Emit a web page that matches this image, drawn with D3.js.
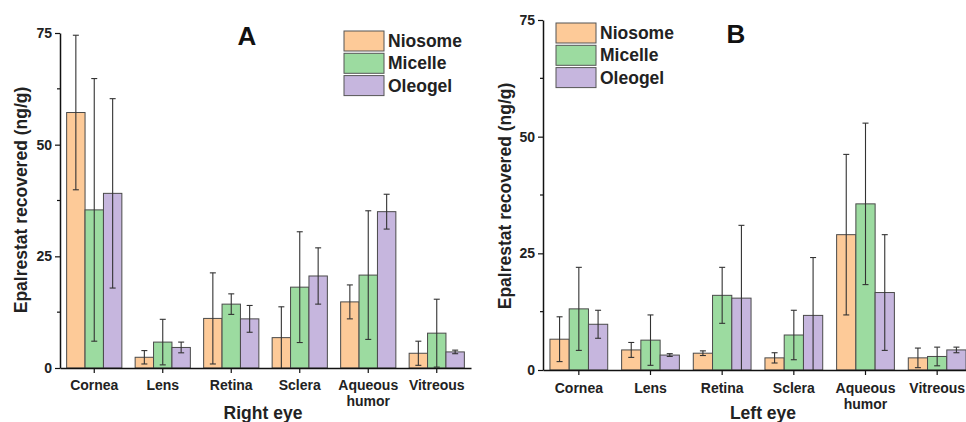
<!DOCTYPE html>
<html>
<head>
<meta charset="utf-8">
<script src="https://cdn.jsdelivr.net/npm/d3@7"></script>
<style>
  body { margin: 0; background: #fff; }
  svg { display: block; font-family: "Liberation Sans", Arial, sans-serif; }
</style>
</head>
<body>
<svg id="mainsvg" width="966" height="422"></svg>
<script>
const categories = ['Cornea', 'Lens', 'Retina', 'Sclera', 'Aqueous humor', 'Vitreous'];
const series = ['Niosome', 'Micelle', 'Oleogel'];
const yTicks = [0, 25, 50, 75];

// right eye (A)
const rightNiosome = [57.2, 2.4, 11.1, 6.8, 14.8, 3.3];
const rightMicelle = [35.4, 5.8, 14.3, 18.1, 20.8, 7.8];
const rightOleogel = [39.1, 4.6, 11.0, 20.6, 35.0, 3.6];
const rightNiosomeSd = [17.3, 1.5, 10.2, 6.9, 3.8, 2.7];
const rightMicelleSd = [29.4, 5.1, 2.3, 12.4, 14.4, 7.6];
const rightOleogelSd = [21.2, 1.2, 3.0, 6.3, 3.9, 0.4];

// left eye (B)
const leftNiosome = [6.6, 4.3, 3.6, 2.6, 29.0, 2.6];
const leftMicelle = [13.1, 6.4, 16.0, 7.5, 35.6, 2.9];
const leftOleogel = [9.8, 3.2, 15.4, 11.7, 16.6, 4.3];
const leftNiosomeSd = [4.8, 1.6, 0.5, 1.1, 17.2, 2.1];
const leftMicelleSd = [8.9, 5.4, 6.0, 5.3, 17.3, 2.0];
const leftOleogelSd = [3.0, 0.3, 15.6, 12.4, 12.4, 0.6];

const color = {
  'Niosome': '#fdca98',
  'Micelle': '#9cdba0',
  'Oleogel': '#c6b6de'
};

const svg = d3.select('#mainsvg');

const buildRows = (means, sds) => {
  const rows = [];
  categories.forEach((c, i) => {
    series.forEach((s, j) => {
      rows.push({ cat: c, series: s, value: means[j][i], sd: sds[j][i] });
    });
  });
  return rows;
};

const drawPanel = opt => {
  const g = svg.append('g');
  const xScale = d3.scaleBand()
    .domain(categories)
    .range([opt.x0, opt.x1])
    .padding(0);
  const bw = xScale.bandwidth();
  const xSub = d3.scaleBand()
    .domain(series)
    .range([bw * 0.097, bw * 0.903])
    .padding(0);
  const yScale = d3.scaleLinear()
    .domain([0, 75])
    .range([opt.y0, opt.y1]);

  const rows = buildRows(opt.means, opt.sds);

  // bars
  g.selectAll('rect.bar').data(rows).enter().append('rect')
    .attr('class', 'bar')
    .attr('x', d => xScale(d.cat) + xSub(d.series))
    .attr('y', d => yScale(d.value))
    .attr('width', xSub.bandwidth())
    .attr('height', d => yScale(0) - yScale(d.value))
    .attr('fill', d => color[d.series])
    .attr('stroke', '#4a4a4a')
    .attr('stroke-width', 1);

  // error bars
  const cx = d => xScale(d.cat) + xSub(d.series) + xSub.bandwidth() / 2;
  const eg = g.append('g').attr('stroke', '#333').attr('stroke-width', 1.1);
  eg.selectAll('line.v').data(rows).enter().append('line')
    .attr('x1', cx).attr('x2', cx)
    .attr('y1', d => yScale(d.value + d.sd))
    .attr('y2', d => yScale(Math.max(0, d.value - d.sd)));
  eg.selectAll('line.top').data(rows).enter().append('line')
    .attr('x1', d => cx(d) - 3).attr('x2', d => cx(d) + 3)
    .attr('y1', d => yScale(d.value + d.sd))
    .attr('y2', d => yScale(d.value + d.sd));
  eg.selectAll('line.bot').data(rows.filter(d => d.value - d.sd > 0)).enter().append('line')
    .attr('x1', d => cx(d) - 3).attr('x2', d => cx(d) + 3)
    .attr('y1', d => yScale(d.value - d.sd))
    .attr('y2', d => yScale(d.value - d.sd));

  // y axis
  const yAxis = d3.axisLeft(yScale).tickValues(yTicks).tickSize(5).tickSizeOuter(0);
  const ya = g.append('g')
    .attr('transform', `translate(${opt.x0}, 0)`)
    .call(yAxis);
  ya.select('.domain').attr('stroke', '#111').attr('stroke-width', 1.5);
  ya.selectAll('.tick line').attr('stroke', '#111').attr('stroke-width', 1.2);
  ya.selectAll('.tick text')
    .attr('font-size', 14).attr('font-weight', 'bold').attr('fill', '#222')
    .attr('font-family', '"Liberation Sans", Arial, sans-serif');
  // minor ticks
  g.selectAll('line.minor').data([12.5, 37.5, 62.5]).enter().append('line')
    .attr('x1', opt.x0 - 3).attr('x2', opt.x0)
    .attr('y1', d => yScale(d)).attr('y2', d => yScale(d))
    .attr('stroke', '#111').attr('stroke-width', 1.2);

  // x axis
  const xAxis = d3.axisBottom(xScale).tickSize(5).tickSizeOuter(0).tickFormat('');
  const xa = g.append('g')
    .attr('transform', `translate(0, ${opt.y0})`)
    .call(xAxis);
  xa.select('.domain').attr('stroke', '#111').attr('stroke-width', 1.5);
  xa.selectAll('.tick line').attr('stroke', '#111').attr('stroke-width', 1.2);

  // category labels
  const labels = g.selectAll('text.cat').data(categories).enter().append('text')
    .attr('class', 'cat')
    .attr('text-anchor', 'middle')
    .attr('font-size', 14).attr('font-weight', 'bold').attr('fill', '#222')
    .attr('transform', d => `translate(${xScale(d) + bw / 2}, ${opt.y0 + opt.catDy})`);
  labels.each(function (d) {
    const parts = d.split(' ');
    d3.select(this).selectAll('tspan').data(parts).enter().append('tspan')
      .attr('x', 0)
      .attr('dy', (p, i) => i === 0 ? 0 : 16)
      .text(p => p);
  });

  // axis titles
  g.append('text').text(opt.xTitle)
    .attr('x', opt.xTitleX).attr('y', 419)
    .attr('text-anchor', 'middle')
    .attr('font-size', 17.5).attr('font-weight', 'bold').attr('fill', '#222');
  g.append('text').text('Epalrestat recovered (ng/g)')
    .attr('transform', `translate(${opt.yTitleX}, ${opt.yTitleY}) rotate(-90)`)
    .attr('text-anchor', 'middle')
    .attr('font-size', 17.5).attr('font-weight', 'bold').attr('fill', '#222');

  // panel letter
  g.append('text').text(opt.letter)
    .attr('x', opt.letterX).attr('y', opt.letterY)
    .attr('text-anchor', 'middle')
    .attr('font-size', 26).attr('font-weight', 'bold').attr('fill', '#111');

  // legend
  const lg = g.append('g').attr('transform', `translate(${opt.legX}, ${opt.legY})`);
  const item = lg.selectAll('g').data(series).enter().append('g')
    .attr('transform', (d, i) => `translate(0, ${i * 22.3})`);
  item.append('rect')
    .attr('width', 40).attr('height', 20)
    .attr('fill', d => color[d])
    .attr('stroke', '#555').attr('stroke-width', 1);
  item.append('text').text(d => d)
    .attr('x', 44).attr('y', 16)
    .attr('font-size', 17.5).attr('font-weight', 'bold').attr('fill', '#222');
};

drawPanel({
  x0: 60, x1: 471, y0: 368, y1: 33,
  means: [rightNiosome, rightMicelle, rightOleogel],
  sds: [rightNiosomeSd, rightMicelleSd, rightOleogelSd],
  catDy: 22, xTitle: 'Right eye', xTitleX: 263,
  yTitleX: 27, yTitleY: 200,
  letter: 'A', letterX: 247, letterY: 45,
  legX: 344, legY: 31
});

drawPanel({
  x0: 543, x1: 973, y0: 370, y1: 20,
  means: [leftNiosome, leftMicelle, leftOleogel],
  sds: [leftNiosomeSd, leftMicelleSd, leftOleogelSd],
  catDy: 23, xTitle: 'Left eye', xTitleX: 763,
  yTitleX: 511, yTitleY: 196,
  letter: 'B', letterX: 736, letterY: 43,
  legX: 556, legY: 23
});
</script>
</body>
</html>
